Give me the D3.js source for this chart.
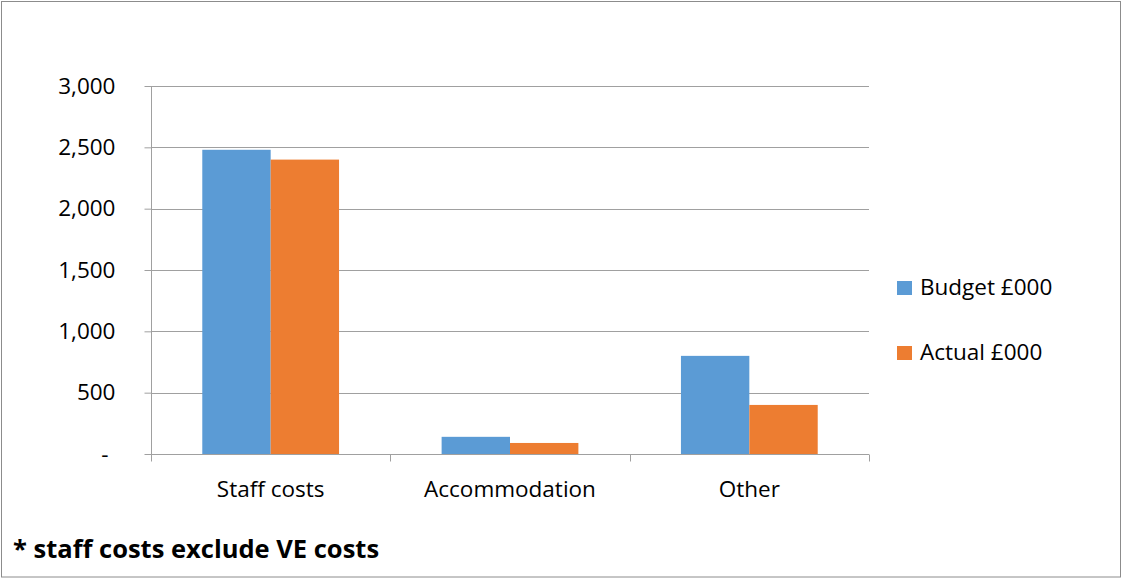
<!DOCTYPE html>
<html><head><meta charset="utf-8">
<script src="https://cdn.jsdelivr.net/npm/d3@7"></script>
<style>body{margin:0;background:#fff}svg{display:block}text{font-family:"Open Sans",Lato,sans-serif;fill:#000}</style>
</head><body><svg id="c" width="1123" height="579"></svg>
<script>
const categories = ["Staff costs", "Accommodation", "Other"];
const seriesNames = ["Budget £000", "Actual £000"];
const budget = [2480, 140, 800];
const actual = [2400, 90, 400];
const yTicks = [0, 500, 1000, 1500, 2000, 2500, 3000];
const colors = ["#5B9BD5", "#ED7D31"];
const footnote = "* staff costs exclude VE costs";

const FS = 22.5;
const svg = d3.select("#c");
svg.append("rect").attr("x",1.5).attr("y",1.5).attr("width",1119).attr("height",575.5)
  .attr("fill","#fff").attr("stroke","#8c8c8c").attr("stroke-width",1);

const L=151, R=869, T=86, B=454;
const x = d3.scaleBand().domain(categories).range([L,R]).paddingInner(0).paddingOuter(0);
const y = d3.scaleLinear().domain([0,3000]).range([B,T]);
// gap width 150%: outer padding per side = 0.75 bar
const xs = d3.scaleBand().domain(seriesNames).range([0,x.bandwidth()]).paddingInner(0).paddingOuter(0.75);

const g = svg.append("g");
g.selectAll("line.grid").data(yTicks.filter(d=>d>0)).join("line")
  .attr("x1",L).attr("x2",R).attr("y1",d=>Math.round(y(d))+0.5).attr("y2",d=>Math.round(y(d))+0.5)
  .attr("stroke","#a0a0a0").attr("stroke-width",1);

const data = [budget, actual];
categories.forEach((c,i)=>{
  seriesNames.forEach((s,j)=>{
    const v = data[j][i];
    g.append("rect").attr("x",x(c)+xs(s)).attr("width",xs.bandwidth())
      .attr("y",y(v)).attr("height",B-y(v)).attr("fill",colors[j]);
  });
});

const ya = svg.append("g").attr("transform",`translate(${L+0.5},0)`)
  .call(d3.axisLeft(y).tickValues(yTicks).tickSize(7).tickPadding(0).tickFormat(d=>d===0?"-":d3.format(",")(d)));
ya.select(".domain").attr("stroke","#a0a0a0").attr("d",`M-0,${T}V${B}`);
ya.selectAll(".tick line").attr("stroke","#a0a0a0");
ya.selectAll(".tick text").attr("x",-36).attr("font-size",FS+"px").attr("font-family","'Open Sans',Lato,sans-serif").attr("fill","#000")
  .attr("dx",d=>d===0?-7:0);

const xa = svg.append("g").attr("transform",`translate(0,${B+0.5})`);
xa.append("line").attr("x1",L).attr("x2",R).attr("stroke","#a0a0a0");
const bounds = [L].concat(categories.map(c=>x(c)+x.bandwidth()));
xa.selectAll("line.t").data(bounds).join("line").attr("class","t")
  .attr("x1",d=>Math.round(d)+0.5).attr("x2",d=>Math.round(d)+0.5).attr("y1",0).attr("y2",7).attr("stroke","#a0a0a0");
xa.selectAll("text").data(categories).join("text")
  .attr("x",d=>x(d)+x.bandwidth()/2).attr("y",42).attr("text-anchor","middle").attr("font-size",FS+"px").text(d=>d);

const lg = svg.append("g");
seriesNames.forEach((s,j)=>{
  const base = 295 + j*65;
  lg.append("rect").attr("x",897).attr("y",base-14).attr("width",15).attr("height",14).attr("fill",colors[j]);
  lg.append("text").attr("x",920).attr("y",base).attr("font-size",FS+"px").text(s);
});

svg.append("text").attr("x",13).attr("y",558).attr("font-size","25.5px").attr("font-weight","bold").text(footnote);
</script></body></html>
